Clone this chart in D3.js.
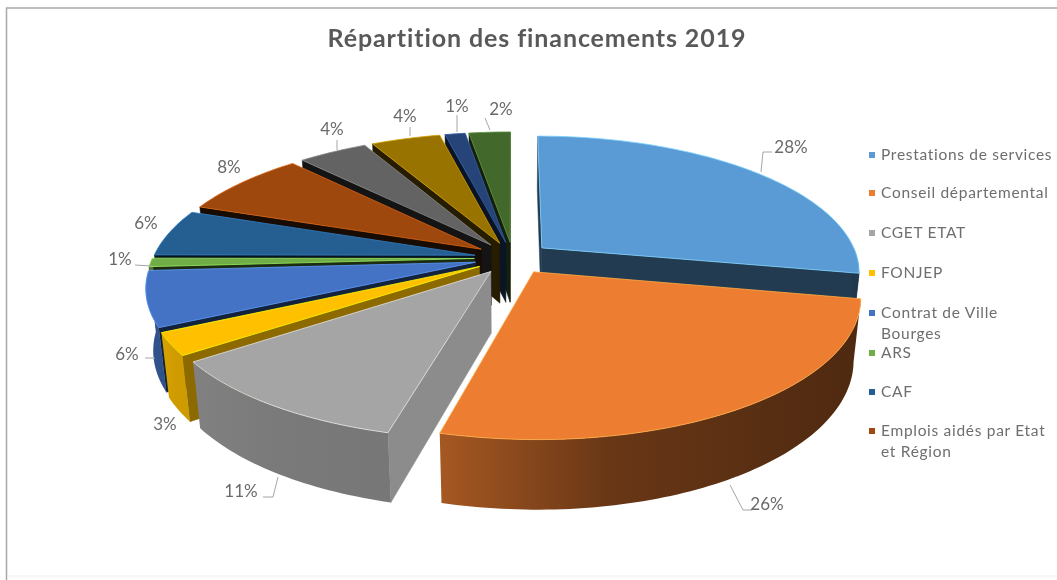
<!DOCTYPE html>
<html lang="fr"><head><meta charset="utf-8">
<script src="https://cdnjs.cloudflare.com/ajax/libs/d3/7.8.5/d3.min.js"></script>
<style>html,body{margin:0;padding:0;background:#fff}svg{display:block}text{font-family:Lato,"Open Sans",sans-serif}</style>
</head><body><div id="chart"></div>
<script>
const categories = ["Prestations de services","Conseil départemental","CGET ETAT","FONJEP","Contrat de Ville Bourges","ARS","CAF","Emplois aidés par Etat et Région","Autres 1","Autres 2","Autres 3","Autres 4"];
const values = [28,26,11,2.6,6.4,1,5.5,7.6,4.1,4.1,1.2,2.45];
const colors = ["#5B9BD5","#ED7D31","#A5A5A5","#FFC000","#4472C4","#70AD47","#255E91","#9E480E","#636363","#997300","#264478","#43682B"];
const cutShade = [.38,.4,.85,.55,.3,.25,.2,.15,.2,.25,.3,.3];
const rimLeft = [.4,.7,.78,.85,.75,.7,.7,.7,.7,.7,.7,.7];
const rimRight = [.35,.33,.72,.8,.7,.7,.7,.7,.7,.7,.7,.7];
const legendRows = [["Prestations de services"],["Conseil départemental"],["CGET ETAT"],["FONJEP"],["Contrat de Ville","Bourges"],["ARS"],["CAF"],["Emplois aidés par Etat","et Région"]];
const legendY = [155,193,233,273,313,353,392,431];
const labelPos = [[791,147],[767,504],[241,491],[165,424],[127,354],[120,259],[146,223],[229,167],[332,129],[405,116],[457,106],[501,109]];
const leaders = [[[761,172],[763,152],[772,152]],[[730,485],[743,510],[752,510]],[[278,477],[273,497],[263,497]],null,[[155,358],[145,358]],[[152,266],[135,265]],null,null,[[337,150],[337,140]],[[410,136],[410,127]],[[457,132],[457,115]],[[490,130],[485,118]]];

const W=1057,H=580;
const svg=d3.select("#chart").append("svg").attr("width",W).attr("height",H).style("filter","blur(0.6px)");
const defs=svg.append("defs");
svg.append("rect").attr("width",W).attr("height",H).attr("fill","#fff");
const frame=svg.append("g").attr("fill","none");
frame.append("path").attr("d",line2([[6.5,580],[6.5,8],[1057,8]])).attr("stroke","#a8a8a8").attr("stroke-width",1.5);
frame.append("path").attr("d",line2([[7,576],[1057,576]])).attr("stroke","#f0f0f0");
function line2(p){return d3.line()(p);}

const cx=513,cy=258,RL=322,RR=316,K=134,HT=62,E=.12,PV=.17,PZ=.02;
const project=(u,v,z)=>{const s=1/(1-PV*v+PZ*z);return [cx+u*s*(u<0?RL:RR),cy+(v*K+z*HT)*s];};
const color=d3.scaleOrdinal(categories,colors);
const shade=(c,f)=>{const r=d3.rgb(c);return d3.rgb(r.r*f,r.g*f,r.b*f).formatHex();};
const line=d3.line();
const pie=d3.pie().sort(null).startAngle(0).endAngle(2*Math.PI)(values);

const slices=pie.map((p,i)=>{const mid=(p.startAngle+p.endAngle)/2;return {...p,i,mid,ou:E*Math.sin(mid),ov:-E*Math.cos(mid)};});
const pt=(d,a,z)=>project(d.ou+Math.sin(a),d.ov-Math.cos(a),z);
const arcAngles=(a0,a1)=>{const n=Math.max(2,Math.ceil((a1-a0)/.02));return d3.range(n+1).map(j=>a0+(a1-a0)*j/n);};
const order=slices.slice().sort((a,b)=>a.ov-b.ov);
const g=svg.append("g");
order.forEach(d=>{
  const c=color(categories[d.i]);
  const apex0=project(d.ou,d.ov,0),apex1=project(d.ou,d.ov,1);
  const top=[apex0,...arcAngles(d.startAngle,d.endAngle).map(a=>pt(d,a,0))];
  const cen=[d3.mean(top,q=>q[0]),d3.mean(top,q=>q[1])];
  [d.startAngle,d.endAngle].forEach(a=>{
    const r0=pt(d,a,0),r1=pt(d,a,1);
    const side=(p)=>(r0[0]-apex0[0])*(p[1]-apex0[1])-(r0[1]-apex0[1])*(p[0]-apex0[0]);
    const m=[(r0[0]+apex0[0])/2,(r0[1]+apex0[1])/2+1];
    if(side(cen)*side(m)<0) g.append("path").attr("d",line([apex0,r0,r1,apex1])+"Z").attr("fill",shade(c,cutShade[d.i])).attr("stroke",shade(c,cutShade[d.i])).attr("stroke-width",.5);
  });
  const a0=Math.max(d.startAngle,Math.PI/2),a1=Math.min(d.endAngle,3*Math.PI/2);
  if(a1>a0){
    const as=arcAngles(a0,a1);
    const id="rim"+d.i;
    const gr=defs.append("linearGradient").attr("id",id);
    gr.append("stop").attr("offset",0).attr("stop-color",shade(c,rimLeft[d.i]));
    gr.append("stop").attr("offset",.4).attr("stop-color",shade(c,rimLeft[d.i]+(rimRight[d.i]-rimLeft[d.i])*.7));
    gr.append("stop").attr("offset",1).attr("stop-color",shade(c,rimRight[d.i]));
    g.append("path").attr("d",line([...as.map(a=>pt(d,a,0)),...as.slice().reverse().map(a=>pt(d,a,1))])+"Z").attr("fill",`url(#${id})`);
  }
  g.append("path").attr("d",line(top)+"Z").attr("fill",c).attr("stroke",d3.color(c).brighter(.9)).attr("stroke-width",.8).attr("stroke-linejoin","round");
});

svg.append("text").attr("x",537).attr("y",47).attr("text-anchor","middle").attr("font-size",25).attr("letter-spacing",.9).attr("font-weight",700).attr("fill","#595959").text("Répartition des financements 2019");

svg.selectAll(".lead").data(leaders.filter(Boolean)).join("path").attr("class","lead").attr("d",d=>line(d)).attr("fill","none").attr("stroke","#a6a6a6").attr("stroke-width",1);
svg.selectAll(".pct").data(values).join("text").attr("class","pct").attr("x",(d,i)=>labelPos[i][0]).attr("y",(d,i)=>labelPos[i][1]+6).attr("text-anchor","middle").attr("font-size",17).attr("fill","#6a6a6a").text(d=>Math.round(d)+"%");

const lg=svg.append("g");
legendRows.forEach((rows,i)=>{
  lg.append("rect").attr("x",869).attr("y",legendY[i]-3).attr("width",6).attr("height",6).attr("fill",colors[i]);
  rows.forEach((t,j)=>lg.append("text").attr("x",881).attr("y",legendY[i]+5+j*21).attr("font-size",15.5).attr("letter-spacing",.7).attr("fill","#6e6e6e").text(t));
});
</script></body></html>
